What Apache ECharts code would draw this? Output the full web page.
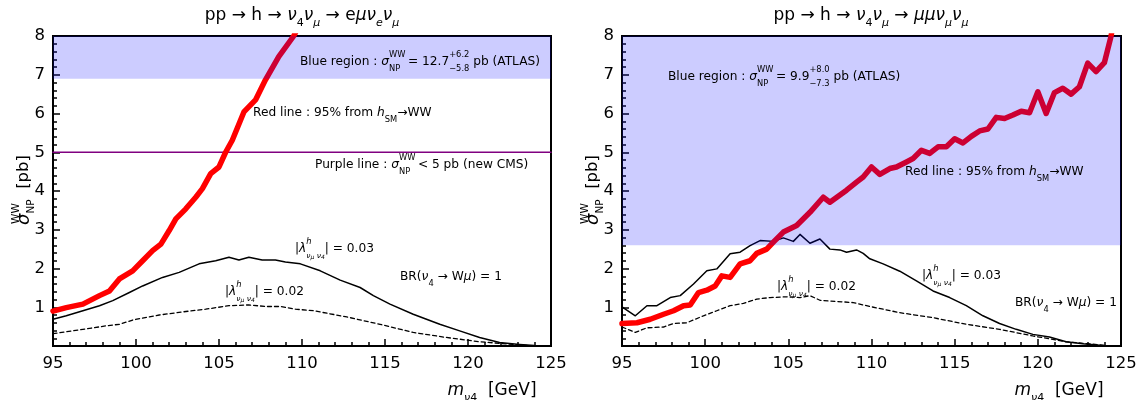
<!DOCTYPE html>
<html><head><meta charset="utf-8">
<script src="https://cdn.jsdelivr.net/npm/echarts@6/dist/echarts.min.js"></script>
<style>html,body{margin:0;padding:0;background:#fff}#c{width:1144px;height:400px}</style>
</head><body><div id="c"></div>
<script>
// ---------- DATA ----------
const xTickValues = [95, 100, 105, 110, 115, 120, 125];
const yTickValues = [1, 2, 3, 4, 5, 6, 7, 8];

// Left panel: pp -> h -> nu4 numu -> e mu nu_e nu_mu
const redLx = [95.0,95.8,96.8,97.8,98.4,99.0,99.8,100.4,101.0,101.5,102.0,102.4,103.0,103.6,104.0,104.5,105.0,105.4,105.8,106.5,107.2,107.8,108.6,109.5,110.1];
const redLy = [0.90,0.99,1.08,1.30,1.42,1.73,1.94,2.20,2.46,2.63,2.98,3.28,3.54,3.84,4.06,4.45,4.62,5.00,5.31,6.04,6.35,6.87,7.47,8.00,8.50];
const solidLx = [95.0,95.8,96.8,97.8,98.6,99.6,100.4,101.6,102.6,103.8,104.8,105.6,106.2,106.8,107.6,108.4,109.0,109.9,111.1,112.3,113.5,114.3,115.3,116.7,118.3,119.5,120.7,121.9,123.1,124.0,124.5];
const solidLy = [0.69,0.78,0.91,1.04,1.17,1.38,1.55,1.77,1.90,2.12,2.20,2.29,2.22,2.29,2.22,2.22,2.17,2.12,1.94,1.70,1.51,1.30,1.08,0.82,0.56,0.39,0.22,0.09,0.04,0.01,0.00];
const dashLx = [95.0,96.8,98.2,99.0,99.8,101.4,103.0,104.2,105.6,106.8,107.8,108.7,109.6,110.7,112.7,114.7,116.7,118.7,120.7,122.7,124.0];
const dashLy = [0.32,0.43,0.52,0.56,0.67,0.80,0.89,0.95,1.04,1.06,1.02,1.02,0.95,0.91,0.75,0.56,0.35,0.22,0.11,0.04,0.00];
const blueLowL = 6.9;   // 12.7 - 5.8
const purpleL = 5;

// Right panel: pp -> h -> nu4 numu -> mu mu nu_mu nu_mu
const redRx = [95.0,95.9,96.7,97.5,98.1,98.7,99.1,99.6,100.1,100.6,101.0,101.5,102.1,102.7,103.1,103.7,104.1,104.7,105.5,106.3,107.1,107.5,108.5,109.1,109.5,110.0,110.5,111.1,111.5,112.1,112.5,113.0,113.5,114.0,114.5,115.0,115.5,116.0,116.5,117.0,117.5,118.0,118.5,119.0,119.5,120.0,120.5,121.0,121.5,122.0,122.5,123.0,123.5,124.0,124.4,124.6];
const redRy = [0.58,0.60,0.69,0.82,0.91,1.04,1.06,1.38,1.44,1.55,1.81,1.77,2.12,2.20,2.39,2.50,2.68,2.94,3.11,3.45,3.84,3.71,4.02,4.23,4.36,4.62,4.43,4.58,4.62,4.75,4.84,5.05,4.97,5.14,5.14,5.35,5.24,5.41,5.55,5.60,5.90,5.87,5.96,6.06,6.02,6.56,6.00,6.54,6.65,6.50,6.69,7.30,7.08,7.31,7.99,8.50];
const solidRx = [95.0,95.8,96.5,97.1,97.9,98.5,99.3,100.1,100.7,101.5,102.1,102.7,103.3,104.1,104.7,105.3,105.7,106.3,106.9,107.5,108.1,108.5,109.1,109.5,109.9,110.7,111.7,112.7,113.7,114.7,115.7,116.7,117.7,118.7,119.7,120.7,121.7,122.7,123.7,124.3];
const solidRy = [1.01,0.78,1.04,1.04,1.25,1.30,1.60,1.94,1.99,2.38,2.42,2.59,2.72,2.70,2.79,2.70,2.88,2.65,2.76,2.50,2.48,2.42,2.48,2.39,2.25,2.12,1.93,1.68,1.42,1.25,1.04,0.78,0.58,0.43,0.30,0.23,0.11,0.06,0.02,0.00];
const dashRx = [95.0,95.8,96.5,97.5,98.1,98.9,99.9,100.7,101.5,102.3,103.1,103.9,104.9,105.7,106.3,106.9,107.9,108.9,109.9,111.7,113.7,115.7,117.7,119.7,121.7,123.7,124.3];
const dashRy = [0.49,0.35,0.47,0.49,0.58,0.60,0.78,0.91,1.04,1.10,1.21,1.25,1.27,1.25,1.30,1.18,1.15,1.12,1.02,0.86,0.73,0.56,0.43,0.26,0.11,0.03,0.00];
const blueLowR = 2.6;   // 9.9 - 7.3

// ---------- CHART ----------
const F = 'DejaVu Sans';
const zip = (xs, ys) => xs.map((x, i) => [x, ys[i]]);
const chart = echarts.init(document.getElementById('c'), null, {renderer: 'canvas'});

function xAxisFor(gi) {
  return {
    gridIndex: gi, type: 'value', min: 95, max: 125, interval: 5,
    axisLine: {show: true, onZero: false, lineStyle: {color: '#000', width: 2}},
    axisTick: {show: true, inside: true, length: 7, lineStyle: {color: '#000', width: 1.5}},
    minorTick: {show: true, splitNumber: 5, length: 4, lineStyle: {color: '#000', width: 1.5}},
    splitLine: {show: false},
    axisLabel: {color: '#000', fontFamily: F, fontSize: 16.5, margin: 9}
  };
}
function yAxisFor(gi) {
  return {
    gridIndex: gi, type: 'value', min: 0, max: 8, interval: 1,
    axisLine: {show: true, onZero: false, lineStyle: {color: '#000', width: 2}},
    axisTick: {show: true, inside: true, length: 7, lineStyle: {color: '#000', width: 1.5}},
    minorTick: {show: true, splitNumber: 5, length: 4, lineStyle: {color: '#000', width: 1.5}},
    splitLine: {show: false},
    axisLabel: {color: '#000', fontFamily: F, fontSize: 16.5, margin: 8,
      formatter: v => yTickValues.includes(v) ? String(v) : ''}
  };
}
function lineSeries(gi, data, color, width, type, z) {
  return {type: 'line', xAxisIndex: gi, yAxisIndex: gi, data: data, showSymbol: false, symbol: 'none',
    lineStyle: {color: color, width: width, type: type || 'solid', cap: 'round', join: 'round'},
    z: z || 2, silent: true};
}
function bandSeries(gi, low) {
  return {type: 'line', xAxisIndex: gi, yAxisIndex: gi, data: [[95, low], [125, low]], showSymbol: false, symbol: 'none',
    lineStyle: {width: 0, opacity: 0}, areaStyle: {color: 'rgba(0,0,255,0.2)', opacity: 1, origin: 'end'}, z: 5, silent: true};
}

const NS = 12.2, SS = 8.3;
const baseRich = {
  n: {fontFamily: F, fontSize: NS, color: '#000', lineHeight: 22},
  i: {fontFamily: F, fontSize: NS, fontStyle: 'italic', color: '#000', lineHeight: 22},
  sp: {fontFamily: F, fontSize: SS, color: '#000', verticalAlign: 'top', lineHeight: 11, width: 0.01},
  sb: {fontFamily: F, fontSize: SS, color: '#000', verticalAlign: 'bottom', lineHeight: 11},
  s: {fontFamily: F, fontSize: SS, color: '#000', verticalAlign: 'bottom', lineHeight: 14},
  l: {fontFamily: F, fontSize: NS, fontStyle: 'italic', color: '#3a3a78', lineHeight: 22},
  lsp: {fontFamily: F, fontSize: SS, fontStyle: 'italic', color: '#3a3a78', verticalAlign: 'top', lineHeight: 9, width: 0.01},
  lsb: {fontFamily: F, fontSize: 7.5, fontStyle: 'italic', color: '#3a3a78', verticalAlign: 'bottom', lineHeight: 14},
  lsb2: {fontFamily: F, fontSize: 6, fontStyle: 'italic', color: '#3a3a78', verticalAlign: 'bottom', lineHeight: 11}
};
function note(x, y, text, align) {
  return {type: 'text', x: x, y: y, z: 100, silent: true,
    style: {text: text, rich: baseRich, align: align || 'left', verticalAlign: 'middle', font: NS + 'px ' + F}};
}
const titleRich = {
  n: {fontFamily: F, fontSize: 17, color: '#000', lineHeight: 26},
  i: {fontFamily: F, fontSize: 17, fontStyle: 'italic', color: '#000', lineHeight: 26},
  s: {fontFamily: F, fontSize: 11, fontStyle: 'italic', color: '#000', verticalAlign: 'bottom', lineHeight: 16},
  u: {fontFamily: F, fontSize: 11, color: '#000', verticalAlign: 'bottom', lineHeight: 16}
};
function bigText(x, y, text) {
  return {type: 'text', x: x, y: y, z: 100, silent: true,
    style: {text: text, rich: titleRich, align: 'center', verticalAlign: 'middle', font: '17px ' + F}};
}
const yNameRich = {
  n: {fontFamily: F, fontSize: 16.5, color: '#000', lineHeight: 26},
  i: {fontFamily: F, fontSize: 18, fontStyle: 'italic', color: '#000', lineHeight: 26},
  sp: {fontFamily: F, fontSize: 10.5, color: '#000', verticalAlign: 'top', lineHeight: 12, width: 0.01},
  sb: {fontFamily: F, fontSize: 10.5, color: '#000', verticalAlign: 'bottom', lineHeight: 12}
};
function yName(x, y) {
  return {type: 'text', x: x, y: y, rotation: Math.PI / 2, z: 100, silent: true,
    style: {text: '{i|σ}{sp|WW}{sb|NP}{n|  [pb]}', align: 'center', verticalAlign: 'middle', font: '16px ' + F, rich: yNameRich}};
}
const lamSub = '{lsb|ν}{lsb2|μ}{lsb| ν}{lsb2|4}';

const option = {
  animation: false,
  backgroundColor: '#fff',
  grid: [
    {left: 53, top: 36, width: 498, height: 310, show: true, borderColor: '#000', borderWidth: 2},
    {left: 622, top: 36, width: 499, height: 310, show: true, borderColor: '#000', borderWidth: 2}
  ],
  xAxis: [xAxisFor(0), xAxisFor(1)],
  yAxis: [yAxisFor(0), yAxisFor(1)],
  series: [
    lineSeries(0, zip(dashLx, dashLy), '#000', 1.3, [4, 3]),
    lineSeries(0, zip(solidLx, solidLy), '#000', 1.5),
    lineSeries(0, [[95, purpleL], [125, purpleL]], '#800080', 1.5, 'solid', 1),
    lineSeries(0, zip(redLx, redLy), '#ff0000', 5.5),
    bandSeries(0, blueLowL),
    lineSeries(1, zip(dashRx, dashRy), '#000', 1.3, [4, 3]),
    lineSeries(1, zip(solidRx, solidRy), '#000', 1.5),
    lineSeries(1, zip(redRx, redRy), '#ff0000', 5.5),
    bandSeries(1, blueLowR)
  ],
  graphic: [
    bigText(302, 16, '{n|pp → h → }{i|ν}{u|4}{i|ν}{s|μ}{n| → e}{i|μν}{s|e}{i|ν}{s|μ}'),
    bigText(871, 16, '{n|pp → h → }{i|ν}{u|4}{i|ν}{s|μ}{n| → }{i|μμν}{s|μ}{i|ν}{s|μ}'),
    bigText(492, 391, '{i|m}{s|ν}{u|4}{n|  [GeV]}'),
    bigText(1059, 391, '{i|m}{s|ν}{u|4}{n|  [GeV]}'),
    yName(24, 190),
    yName(593, 190),
    // left annotations
    note(300, 62, '{n|Blue region : }{i|σ}{sp|WW}{sb|NP}{n|  = 12.7}{sp|+6.2}{sb|−5.8}{n| pb (ATLAS)}'),
    note(253, 113, '{n|Red line : 95% from }{i|h}{sb|SM}{n|→WW}'),
    note(315, 165, '{n|Purple line : }{i|σ}{sp|WW}{sb|NP}{n|  < 5 pb (new CMS)}'),
    note(295, 249, '{l||λ}{lsp|h}' + lamSub + '{l||}{n| = 0.03}'),
    note(400, 277, '{n|BR(}{i|ν}{s|4}{n| → W}{i|μ}{n|) = 1}'),
    note(225, 292, '{l||λ}{lsp|h}' + lamSub + '{l||}{n| = 0.02}'),
    // right annotations
    note(668, 77, '{n|Blue region : }{i|σ}{sp|WW}{sb|NP}{n|  = 9.9}{sp|+8.0}{sb|−7.3}{n| pb (ATLAS)}'),
    note(905, 172, '{n|Red line : 95% from }{i|h}{sb|SM}{n|→WW}'),
    note(922, 276, '{l||λ}{lsp|h}' + lamSub + '{l||}{n| = 0.03}'),
    note(1015, 303, '{n|BR(}{i|ν}{s|4}{n| → W}{i|μ}{n|) = 1}'),
    note(777, 287, '{l||λ}{lsp|h}' + lamSub + '{l||}{n| = 0.02}')
  ]
};
chart.setOption(option);
</script>
</body></html>
